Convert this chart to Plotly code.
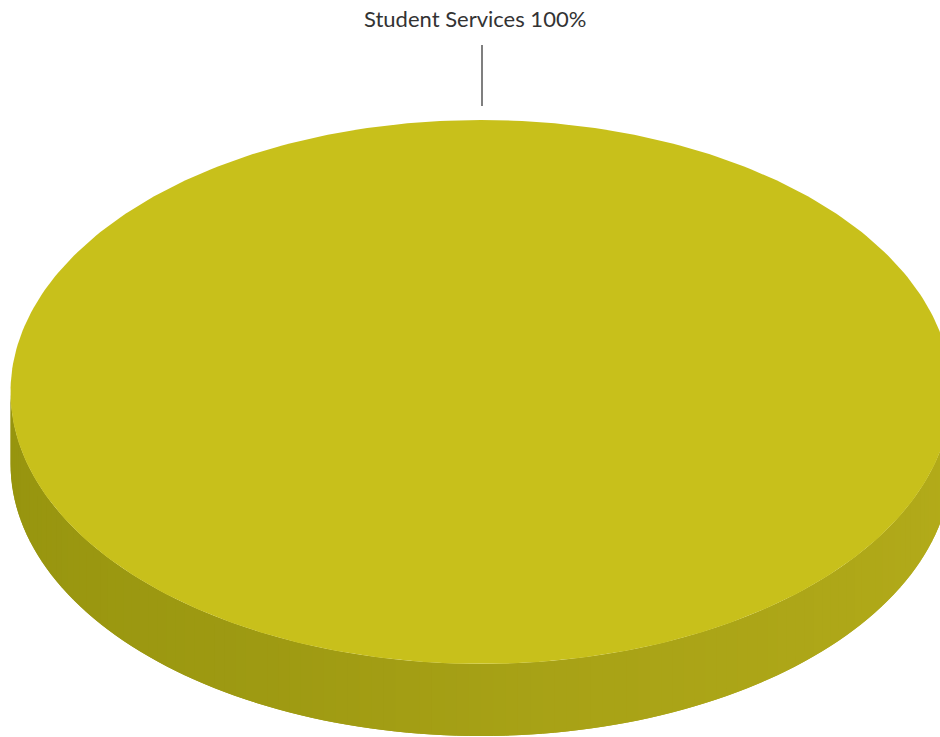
import numpy as np
import plotly.graph_objects as go

# Budget share by department
categories = ["Student Services"]
values = [100]

TOP_COLOR = "#c8c01b"
# Side wall shade from the left rim to the right rim
WALL_STOPS = [(0.0, (150, 148, 14)), (0.35, (158, 154, 18)), (0.55, (168, 162, 22)), (1.0, (180, 172, 26))]

CX, CY, RX, RY, DEPTH = 481.0, 392.0, 470.5, 272.0, 72.0
LEADER_X = 482.0
WALL_BANDS = 120


def wall_color(t):
    pos = [s[0] for s in WALL_STOPS]
    rgb = [np.interp(t, pos, [s[1][i] for s in WALL_STOPS]) for i in range(3)]
    return "rgb({:.0f},{:.0f},{:.0f})".format(*rgb)


fig = go.Figure()

# Front wall of the disc, split into narrow bands for smooth shading
edges = np.linspace(np.pi, 0, WALL_BANDS + 1)
for i in range(WALL_BANDS):
    a0, a1 = edges[i], edges[min(i + 2, WALL_BANDS)]
    arc = np.linspace(a0, a1, 6)
    xs = CX + RX * np.cos(arc)
    ys = CY + RY * np.sin(arc)
    fig.add_trace(go.Scatter(
        x=np.concatenate([xs, xs[::-1], xs[:1]]),
        y=np.concatenate([ys, ys[::-1] + DEPTH, ys[:1]]),
        mode="lines", fill="toself", fillcolor=wall_color(i / (WALL_BANDS - 1)),
        line=dict(width=0), hoverinfo="skip", showlegend=False,
    ))

# Top face: each category sweeps an angle proportional to its value, clockwise from 12 o'clock
total = sum(values)
start = -np.pi / 2
for name, value in zip(categories, values):
    sweep = 2 * np.pi * value / total
    theta = np.linspace(start, start + sweep, 361)
    fig.add_trace(go.Scatter(
        x=CX + RX * np.cos(theta), y=CY + RY * np.sin(theta),
        mode="lines", fill="toself", fillcolor=TOP_COLOR,
        line=dict(width=0), name=name, showlegend=False,
        hovertemplate=f"{name}: {value / total:.0%}<extra></extra>",
    ))
    start += sweep

# Leader line from the rim up to the label
fig.add_trace(go.Scatter(
    x=[LEADER_X, LEADER_X], y=[CY - RY - 14, CY - RY - 75], mode="lines",
    line=dict(color="#555555", width=1.5), hoverinfo="skip", showlegend=False,
))

fig.add_annotation(
    x=474.5, y=18, xref="x", yref="y", showarrow=False,
    text=f"{categories[0]} {values[0] / total:.0%}",
    font=dict(family="Lato", size=22, color="#333333"),
)

fig.update_layout(
    width=940, height=737, autosize=False,
    margin=dict(l=0, r=0, t=0, b=0),
    paper_bgcolor="white", plot_bgcolor="white",
    xaxis=dict(range=[0, 940], visible=False, fixedrange=True),
    yaxis=dict(range=[737, 0], visible=False, fixedrange=True),
)

fig.write_html("out.html", config={"displayModeBar": False})
